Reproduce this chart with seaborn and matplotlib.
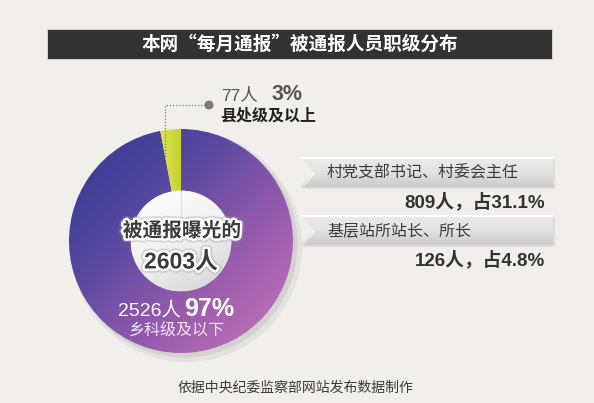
import numpy as np
import matplotlib
matplotlib.use("Agg")
import matplotlib.pyplot as plt
import matplotlib.patheffects as pe
from matplotlib.patches import Circle, Polygon, Rectangle
import seaborn as sns

# data
levels = ["县处级及以上", "乡科级及以下"]
counts = [77, 2526]
shares = ["3%", "97%"]
total = 2603
sub_groups = ["村党支部书记、村委会主任", "基层站所站长、所长"]
sub_counts = [809, 126]
sub_shares = ["31.1%", "4.8%"]

title = "本网“每月通报”被通报人员职级分布"
source = "依据中央纪委监察部网站发布数据制作"

W, H = 594, 403
BG = "#f0efeb"
CJK = ["Noto Sans CJK SC", "DejaVu Sans"]
NUM = ["Liberation Sans", "Noto Sans CJK SC"]   # latin digits first, CJK fallback

sns.set_theme(style="white")
plt.rcParams["font.family"] = CJK

purple_cmap = sns.blend_palette(["#2b3a8e", "#55479f", "#9a5cae", "#c978b8"], as_cmap=True)
yellow_cmap = sns.blend_palette(["#e3ec62", "#c3d02b"], as_cmap=True)
grey_cmap = sns.blend_palette(["#ffffff", "#f1f1f1", "#d2d2d2"], as_cmap=True)
banner_cmap = sns.blend_palette(["#ffffff", "#f7f7f7", "#dcdcdc"], as_cmap=True)

fig = plt.figure(figsize=(W / 100, H / 100), dpi=100, facecolor=BG)

# donut in its own square axes
cx, cy, R = 181, 241, 112
half = 1.3 * R
ax = fig.add_axes([(cx - half) / W, (H - cy - half) / H, 2 * half / W, 2 * half / H])

# soft shadow behind the ring
for off, a, r in [(0.05, 0.05, 1.03), (0.03, 0.07, 1.01)]:
    ax.add_patch(Circle((off, -off), r, color="#000000", alpha=a, lw=0, zorder=0))

hole = 0.45
wedges, _ = ax.pie(counts, startangle=90, counterclock=True, radius=1,
                   colors=["none", "none"],
                   wedgeprops=dict(width=1 - hole, linewidth=0))

g = np.linspace(0, 1, 300)
X, Y = np.meshgrid(g, g)
im = ax.imshow((X + Y) / 2, extent=(-1, 1, -1, 1), origin="upper",
               cmap=purple_cmap, zorder=1)
im.set_clip_path(wedges[1])
im_y = ax.imshow(X, extent=(-0.25, 0.02, 0.4, 1.0), origin="upper",
                 cmap=yellow_cmap, aspect="auto", zorder=1)
im_y.set_clip_path(wedges[0])

inner = Circle((0, 0), hole, facecolor="none", lw=0)
ax.add_patch(inner)
im_c = ax.imshow((0.6 * X + Y) / 1.6, extent=(-hole, hole, -hole, hole),
                 origin="upper", cmap=grey_cmap, zorder=2)
im_c.set_clip_path(inner)
ax.plot([0, 0], [0, hole], color="#e2e2e2", lw=0.8, zorder=3)
ax.plot([0, 0], [hole, 1.0], color="#6b6a1e", lw=0.6, alpha=0.6, zorder=3)

ax.set_xlim(-1.3, 1.3)
ax.set_ylim(-1.3, 1.3)
ax.set_aspect("equal")
ax.axis("off")

# overlay in pixel coordinates for all text and furniture
ov = fig.add_axes([0, 0, 1, 1])
ov.patch.set_alpha(0)

# title bar
ov.add_patch(Rectangle((47, 29), 505, 30, facecolor="#323232", edgecolor="#dcdcdc", lw=0.6))
ov.text(300, 44, title, color="white", fontsize=13.4, fontweight="bold",
        ha="center", va="center")

# ribbons on the right
for top in [157, 215]:
    bot = top + 30
    pts = [(300, top), (553, top), (553, bot), (300, bot), (313, (top + bot) / 2)]
    shadow = Polygon([(x + 2, y + 2) for x, y in pts], closed=True,
                     facecolor="#000000", alpha=0.08, lw=0)
    ov.add_patch(shadow)
    rib = Polygon(pts, closed=True, facecolor="none", lw=0)
    ov.add_patch(rib)
    gi = ov.imshow(Y, extent=(300, 553, bot, top), origin="upper",
                   cmap=banner_cmap, aspect="auto")
    gi.set_clip_path(rib)

for (label, n, s), ty in zip(zip(sub_groups, sub_counts, sub_shares), [173, 231]):
    ov.text(327, ty, label, color="#3a3a3a", fontsize=11.5, ha="left", va="center")
    ov.text(545, ty + 29, f"{n}人，占{s}", color="#333333", fontsize=13.5,
            fontweight="bold", ha="right", va="center", family=NUM)

# top annotation for the small slice
ov.plot([205, 165, 165], [105, 105, 157], color="#7a7a7a", lw=0.9, ls=(0, (1, 1.5)))
ov.add_patch(Circle((209, 105), 4.5, color="#7a7a7a", lw=0))
ov.text(221, 95, f"{counts[0]}人", color="#555555", fontsize=12.5,
        ha="left", va="center", family=NUM)
ov.text(272, 94, shares[0], color="#555555", fontsize=15.5, fontweight="bold",
        ha="left", va="center", family=NUM)
ov.text(220, 116, levels[0], color="#222222", fontsize=11.5, fontweight="bold",
        ha="left", va="center")

# centre label
halo = [pe.withStroke(linewidth=6, foreground="#9a9a9a", alpha=0.35),
        pe.withStroke(linewidth=3.5, foreground="white")]
ov.text(182, 231, "被通报曝光的", color="#3c3c3c", fontsize=14.2,
        fontweight="bold", ha="center", va="center", path_effects=halo)
ov.text(181, 262, f"{total}人", color="#3c3c3c", fontsize=16.5,
        fontweight="bold", ha="center", va="center", path_effects=halo, family=NUM)

# big slice label
ov.text(118, 311, f"{counts[1]}人", color="white", fontsize=14, ha="left",
        va="center", family=NUM)
ov.text(184, 309, shares[1], color="white", fontsize=18, fontweight="bold",
        ha="left", va="center", family=NUM)
ov.text(177, 330, levels[1], color="#f3e6f1", fontsize=11.5, ha="center", va="center")

ov.text(295, 388, source, color="#3a3a3a", fontsize=10, ha="center", va="center")

ov.set_xlim(0, W)
ov.set_ylim(H, 0)
ov.axis("off")

fig.savefig("out.png", dpi=100, facecolor=BG)
